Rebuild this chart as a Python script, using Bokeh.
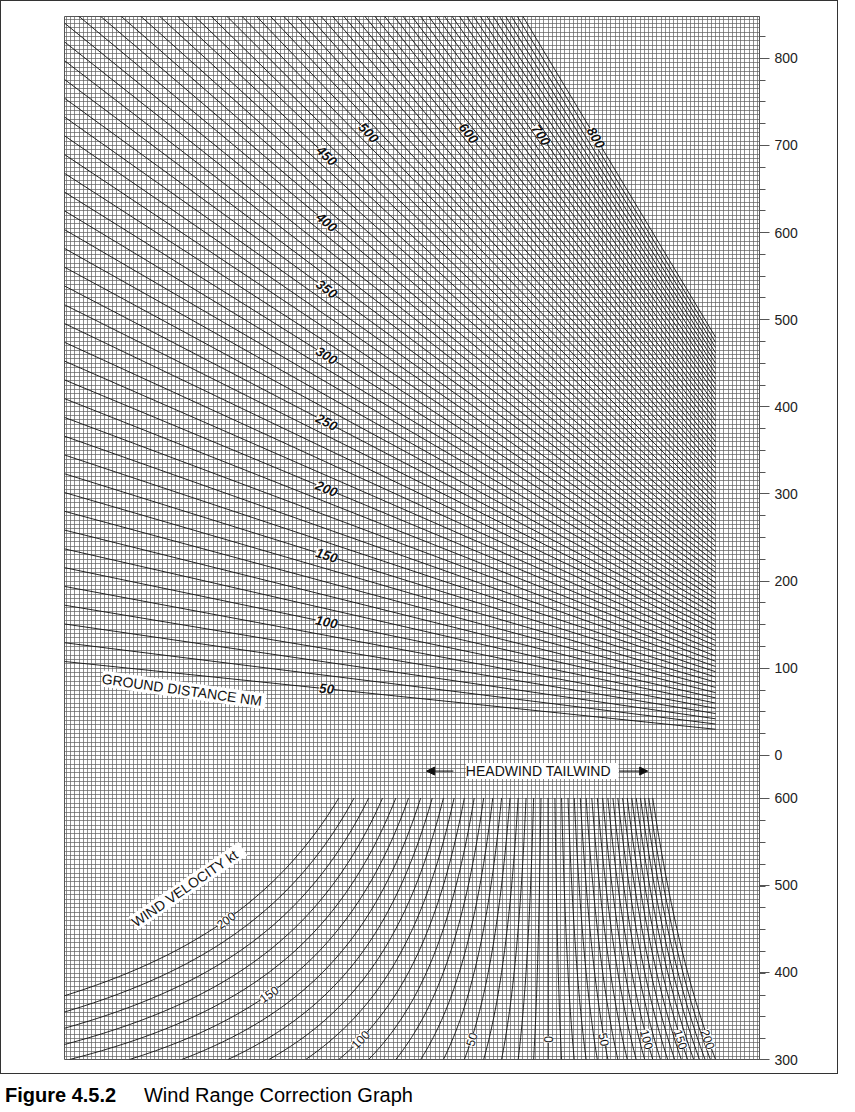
import math
from bokeh.plotting import figure
from bokeh.layouts import column
from bokeh.models import (FixedTicker, LinearAxis, Range1d, Label, Arrow,
                          NormalHead, Div)
from bokeh.embed import file_html
from bokeh.resources import INLINE

# ---- data ----
ground_distances = list(range(50, 810, 10))          # NM
ground_labels = [50, 100, 150, 200, 250, 300, 350, 400, 450, 500, 600, 700, 800]
wind_speeds = list(range(-200, 210, 10))             # kt, negative = headwind
wind_labels = [-200, -150, -100, -50, 0, 50, 100, 150, 200]
wind_label_tas = [460, 375, 323, 323, 323, 323, 323, 323, 323]
tas_values = list(range(300, 605, 5))
air_ticks = [0, 100, 200, 300, 400, 500, 600, 700, 800]
tas_ticks = [300, 400, 500, 600]

# factor axis (air / ground), reversed: large on the left
F_LEFT, F_RIGHT = 2.155, 0.495
F_END = 0.6                # ground lines stop here on the right
TAS_OFFSET = 649           # bottom panel: y = TAS - offset
Y_MIN, Y_MAX = -349, 848
PX_PER_F = 420.0
PX_PER_Y = 0.871

p = figure(width=838, height=1074, output_backend="svg", toolbar_location=None,
           x_range=Range1d(F_LEFT, F_RIGHT), y_range=Range1d(Y_MIN, Y_MAX),
           min_border_left=57, min_border_top=10, min_border_right=83,
           min_border_bottom=14, outline_line_color="#555555",
           styles={"border": "1px solid #333"})
p.min_border_left = 63
p.min_border_top = 15
p.min_border_right = 80
p.min_border_bottom = 16
p.xaxis.visible = False
p.yaxis.visible = False

# grid
xg = [round(0.50 + 0.01 * i, 3) for i in range(0, 166)]
yg = list(range(-345, 850, 5))
p.xgrid.ticker = FixedTicker(ticks=xg)
p.ygrid.ticker = FixedTicker(ticks=yg)
for g in (p.xgrid, p.ygrid):
    g.grid_line_color = "#5e5e5e"
    g.grid_line_width = 0.7
    g.grid_line_alpha = 1.0

# right axis
ax = LinearAxis()
major = air_ticks + [t - TAS_OFFSET for t in tas_ticks]
minor = [v for v in range(-325, 850, 25) if v not in major and v not in (-25,)]
ax.ticker = FixedTicker(ticks=major, minor_ticks=minor)
ax.major_label_overrides = {**{a: str(a) for a in air_ticks},
                            **{t - TAS_OFFSET: str(t) for t in tas_ticks}}
ax.axis_line_color = "#555555"
ax.major_tick_line_color = "#555555"
ax.minor_tick_line_color = "#555555"
ax.major_tick_out = 10
ax.minor_tick_out = 6
ax.major_tick_in = 0
ax.minor_tick_in = 0
ax.major_label_text_font = "Liberation Sans"
ax.major_label_text_font_size = "10.5pt"
ax.major_label_text_color = "#222222"
p.add_layout(ax, "right")

# ground distance lines
for g in ground_distances:
    p.line([F_LEFT, F_END], [g * F_LEFT, g * F_END], line_color="#111111", line_width=0.9)

label_style = dict(text_font="Liberation Sans", text_font_style="bold italic",
                   text_font_size="10pt", text_align="center", text_baseline="middle",
                   background_fill_color="white", text_color="#111111")
for g in ground_labels:
    f = 1.529 if g <= 450 else {500: 1.429, 600: 1.19, 700: 1.017, 800: 0.886}[g]
    ang = -math.atan(g * PX_PER_Y / PX_PER_F)
    p.add_layout(Label(x=f, y=g * f, text=str(g), angle=ang, **label_style))

# wind lines
for w in wind_speeds:
    xs = [t / (t + w) for t in tas_values]
    ys = [t - TAS_OFFSET for t in tas_values]
    p.line(xs, ys, line_color="#111111", line_width=0.9)

wstyle = dict(label_style, text_font_style="normal", text_font_size="9pt")
for w, t in zip(wind_labels, wind_label_tas):
    f = t / (t + w)
    dfdt = w / (t + w) ** 2           # slope of curve
    dx = -dfdt * PX_PER_F             # screen px per kt (right positive)
    dy = PX_PER_Y                     # screen px per kt (up)
    ang = math.atan2(dy, dx)
    if ang > math.pi / 2:
        ang -= math.pi
    p.add_layout(Label(x=f, y=t - TAS_OFFSET, text=str(abs(w)), angle=ang, **wstyle))

# titles / annotations
txt = dict(text_font="Liberation Sans", text_font_size="10.5pt", text_color="#111111",
           text_align="center", text_baseline="middle")
p.add_layout(Label(x=1.87, y=75, text="GROUND DISTANCE  NM", angle=-0.14,
                   background_fill_color="white", **txt))
p.add_layout(Label(x=1.86, y=-150, text="WIND  VELOCITY  kt", angle=0.6,
                   background_fill_color="white", **txt))
p.add_layout(Label(x=1.014, y=-18, text="HEADWIND   TAILWIND",
                   background_fill_color="white", **txt))
p.add_layout(Arrow(end=NormalHead(size=8, fill_color="#111111", line_color="#111111"),
                   x_start=1.226, y_start=-18, x_end=1.29, y_end=-18, line_width=1))
p.add_layout(Arrow(end=NormalHead(size=8, fill_color="#111111", line_color="#111111"),
                   x_start=0.83, y_start=-18, x_end=0.762, y_end=-18, line_width=1))
p.add_layout(Label(x=0.375, y=450, text="AIR DISTANCE NAM", angle=math.pi / 2, **txt))
p.add_layout(Label(x=0.375, y=-210, text="AVERAGE CRUISE TAS kt", angle=math.pi / 2, **txt))

caption = Div(text='<span style="font-family:Liberation Sans;font-size:15pt;">'
                   '<b>Figure 4.5.2</b>&nbsp;&nbsp;&nbsp;&nbsp;&nbsp;Wind Range Correction Graph</span>',
              width=838, height=26)

open("out.html", "w").write(file_html(column(p, caption, spacing=2), INLINE))
